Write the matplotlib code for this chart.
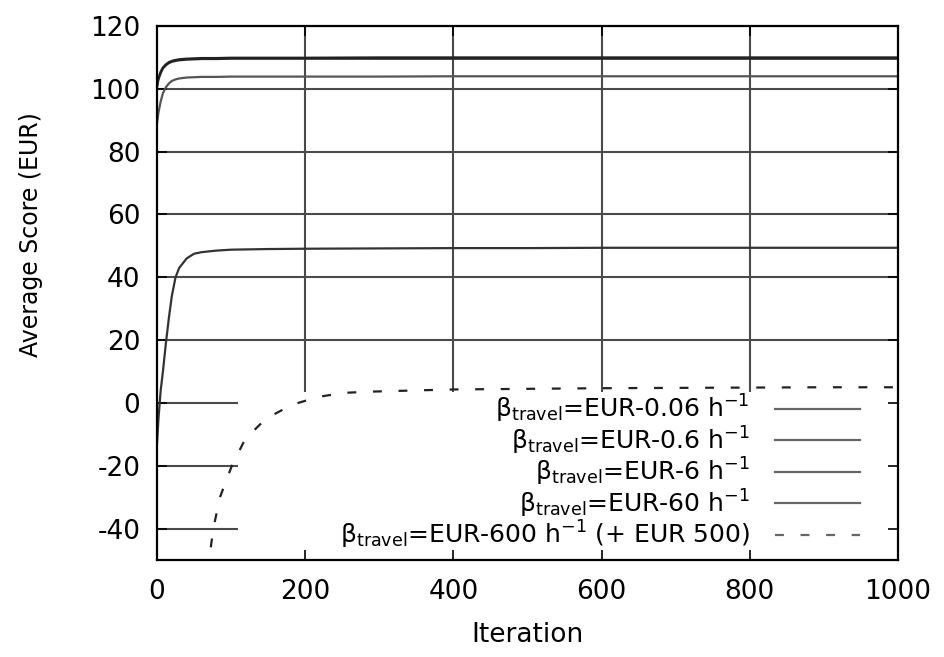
#!/usr/bin/env python3
"""Average score vs. iteration for several travel-time valuations (gnuplot-style look)."""

import matplotlib

matplotlib.use("Agg")
import matplotlib.pyplot as plt
from matplotlib.patches import Rectangle

# --- data ----------------------------------------------------------------
iters = [0, 2, 5, 8, 12, 16, 20, 25, 30, 40, 50, 60, 80, 100, 150, 200,
         300, 400, 500, 600, 700, 800, 900, 1000]

score_006 = [101.0, 103.5, 105.5, 106.8, 107.8, 108.5, 108.9, 109.2, 109.4, 109.6,
             109.7, 109.8, 109.8, 109.9, 109.9, 109.9, 110.0, 110.0, 110.0, 110.0,
             110.0, 110.0, 110.0, 110.0]
score_06 = [100.5, 103.0, 105.0, 106.5, 107.5, 108.2, 108.6, 108.9, 109.1, 109.3,
            109.4, 109.5, 109.5, 109.6, 109.6, 109.6, 109.6, 109.6, 109.6, 109.6,
            109.6, 109.6, 109.6, 109.6]
score_6 = [89.0, 92.5, 96.0, 98.6, 100.5, 101.7, 102.5, 103.0, 103.3, 103.6,
           103.7, 103.8, 103.8, 103.9, 103.9, 103.9, 103.9, 104.0, 104.0, 104.0,
           104.0, 104.0, 104.0, 104.0]
score_60 = [-13.0, -5.0, 4.0, 10.0, 19.0, 27.0, 34.0, 40.0, 43.0, 46.0,
            47.5, 48.0, 48.5, 48.8, 49.0, 49.1, 49.2, 49.3, 49.3, 49.4,
            49.4, 49.4, 49.4, 49.4]

iters_600 = [55, 60, 67, 72, 76, 85, 101, 119, 147, 182, 217, 251, 287, 350,
             400, 500, 600, 700, 800, 900, 1000]
score_600 = [-70.0, -62.0, -52.0, -47.0, -40.0, -30.0, -20.0, -11.5, -5.0, -0.6,
             1.9, 3.2, 3.6, 4.0, 4.3, 4.5, 4.7, 4.8, 4.9, 5.0, 5.0]

labels = [
    r"β$_{\mathrm{travel}}$=EUR-0.06 h$^{\mathrm{-1}}$",
    r"β$_{\mathrm{travel}}$=EUR-0.6 h$^{\mathrm{-1}}$",
    r"β$_{\mathrm{travel}}$=EUR-6 h$^{\mathrm{-1}}$",
    r"β$_{\mathrm{travel}}$=EUR-60 h$^{\mathrm{-1}}$",
    r"β$_{\mathrm{travel}}$=EUR-600 h$^{\mathrm{-1}}$ (+ EUR 500)",
]

x_ticks = [0, 200, 400, 600, 800, 1000]
y_ticks = [-40, -20, 0, 20, 40, 60, 80, 100, 120]

# --- style ----------------------------------------------------------------
plt.rcParams["font.family"] = ["DejaVu Sans"]
plt.rcParams["mathtext.fontset"] = "dejavusans"
plt.rcParams["axes.unicode_minus"] = False

fig = plt.figure(figsize=(9.44, 6.57), dpi=100)
ax = fig.add_axes([0.1663, 0.1476, 0.785, 0.8128])

ax.set_xlim(0, 1000)
ax.set_ylim(-50, 120)

# grid drawn by hand so the legend box can hide it while ticks stay on top
grid_kw = dict(color="#4a4a4a", lw=1.5, zorder=0.5)
for y in y_ticks:
    ax.axhline(y, **grid_kw)
for x in x_ticks[1:-1]:
    ax.axvline(x, **grid_kw)

# opaque legend box (gnuplot key) covering the lower right
ax.add_patch(Rectangle((109, -50), 891, 53.5, facecolor="white",
                       edgecolor="none", zorder=1.5))

series = [
    (iters, score_006, "#222222", "-"),
    (iters, score_06, "#222222", "-"),
    (iters, score_6, "#555555", "-"),
    (iters, score_60, "#333333", "-"),
    (iters_600, score_600, "#222222", "--"),
]

for xs, ys, col, ls in series:
    line, = ax.plot(xs, ys, color=col, lw=1.6, ls=ls, zorder=2)
    if ls == "--":
        line.set_dashes((4, 7.5))

# key entries: right-aligned text plus a short sample line
rows_y = [0.283, 0.224, 0.165, 0.106, 0.047]
for (xs, ys, col, ls), lab, ry in zip(series, labels, rows_y):
    ax.text(0.80, ry, lab, transform=ax.transAxes, ha="right", va="center",
            fontsize=18, zorder=3)
    sample, = ax.plot([0.834, 0.949], [ry, ry], transform=ax.transAxes,
                      color="#666666", lw=1.6, ls=ls, zorder=3, clip_on=False)
    if ls == "--":
        sample.set_dashes((4, 7.5))

ax.set_xticks(x_ticks)
ax.set_yticks(y_ticks)
ax.tick_params(direction="in", length=7, width=1.2, top=True, right=True,
               labelsize=19, colors="black")
ax.tick_params(axis="x", pad=14)
ax.tick_params(axis="y", pad=12)

for sp in ax.spines.values():
    sp.set_linewidth(1.6)
    sp.set_zorder(4)

ax.set_xlabel("Iteration", fontsize=19, labelpad=12)
ax.set_ylabel("Average Score (EUR)", fontsize=17)
ax.yaxis.set_label_coords(-0.154, 0.61)

fig.savefig("out.png", dpi=100)
